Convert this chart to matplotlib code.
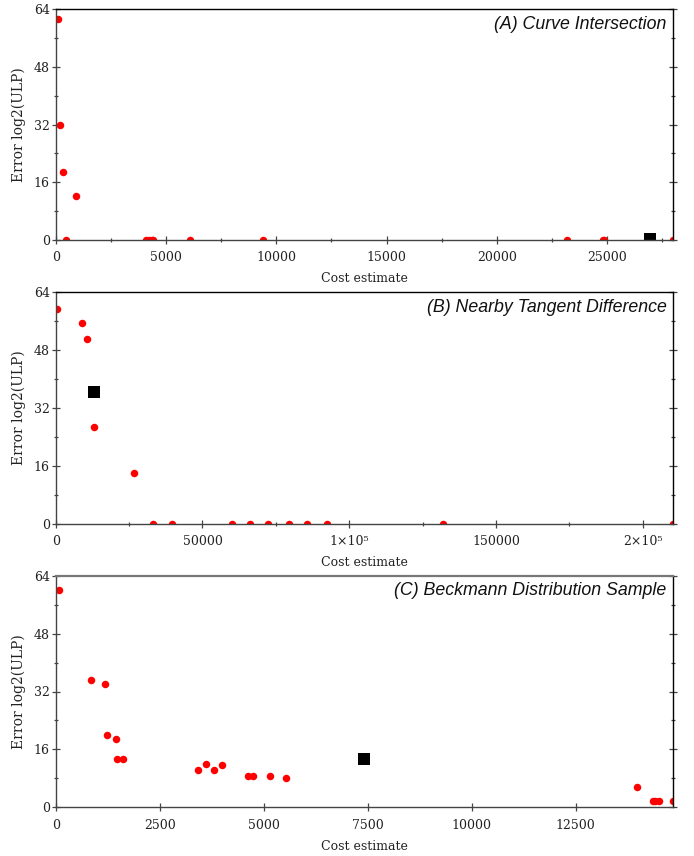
import matplotlib
matplotlib.use("Agg")
import matplotlib.pyplot as plt
from matplotlib.ticker import MultipleLocator, FixedLocator, FixedFormatter

# Panel A: Curve Intersection
a_x = [100, 210, 345, 935, 480, 4100, 4240, 4360, 4430, 6075, 9383, 23180, 24800, 24850, 28000]
a_y = [61.2, 31.8, 19.0, 12.3, 0, 0, 0, 0, 0, 0, 0, 0, 0, 0, 0]
a_sq = (26955, 0.3)

# Panel B: Nearby Tangent Difference
b_x = [443, 8964, 10670, 13160, 26690, 33270, 39740, 60200, 66120, 72460, 79510, 85650, 92360, 131900, 210400]
b_y = [59.5, 55.6, 51.1, 26.7, 14.1, 0, 0, 0, 0, 0, 0, 0, 0, 0, 0]
b_sq = (13160, 36.5)

# Panel C: Beckmann Distribution Sample
c_x = [79, 840, 1191, 1224, 1448, 1472, 1608, 3417, 3609, 3801, 3993, 4635, 4746, 5153, 5538,
       13969, 14361, 14409, 14513, 14850]
c_y = [60.0, 35.1, 34.0, 20.1, 19.0, 13.3, 13.3, 10.4, 11.9, 10.3, 11.7, 8.65, 8.65, 8.65, 8.2,
       5.5, 1.66, 1.66, 1.66, 1.66]
c_sq = (7411, 13.3)

titles = ["(A) Curve Intersection", "(B) Nearby Tangent Difference", "(C) Beckmann Distribution Sample"]

SERIF = "DejaVu Serif"
SPINE = "#444444"

fig = plt.figure(figsize=(6.94, 8.56), dpi=100)
W = 694.0
H = 856.0
left = 55.7 / W
width = (673.3 - 55.7) / W
boxes = [(9.3, 240.0), (292.3, 523.7), (575.7, 807.3)]

panels = [
    (a_x, a_y, a_sq, 28000, 5000, 2500, None),
    (b_x, b_y, b_sq, 210400, 50000, 25000, ["0", "50000", "1\u00d710\u2075", "150000", "2\u00d710\u2075"]),
    (c_x, c_y, c_sq, 14850, 2500, None, None),
]

for i, (xs, ys, sq, xmax, major, minor, labels) in enumerate(panels):
    top, bot = boxes[i]
    ax = fig.add_axes([left, 1 - bot / H, width, (bot - top) / H])
    ax.plot(xs, ys, "o", color="#ff0000", markersize=5.4, markeredgewidth=0)
    ax.plot([sq[0]], [sq[1]], "s", color="black", markersize=8.2, markeredgewidth=0)
    ax.set_xlim(0, xmax)
    ax.set_ylim(0, 64)

    ax.yaxis.set_major_locator(MultipleLocator(16))
    ax.yaxis.set_minor_locator(MultipleLocator(8))
    if labels is not None:
        ticks = [0, 50000, 100000, 150000, 200000]
        ax.xaxis.set_major_locator(FixedLocator(ticks))
        ax.xaxis.set_major_formatter(FixedFormatter(labels))
    else:
        ax.xaxis.set_major_locator(MultipleLocator(major))
    if minor is not None:
        ax.xaxis.set_minor_locator(MultipleLocator(minor))

    ax.tick_params(axis="both", which="both", direction="inout", color=SPINE, width=0.9,
                   labelsize=9, labelcolor="#222222")
    ax.tick_params(axis="both", which="major", length=6.3)
    ax.tick_params(axis="both", which="minor", length=3.1)
    ax.tick_params(axis="y", which="both", right=True, left=True, pad=1)
    ax.tick_params(axis="x", which="both", top=False, pad=5)
    for lab in ax.get_xticklabels() + ax.get_yticklabels():
        lab.set_family(SERIF)

    for side in ["left", "bottom"]:
        ax.spines[side].set_color(SPINE)
        ax.spines[side].set_linewidth(1.0)
    ax.spines["right"].set_color("black")
    ax.spines["right"].set_linewidth(1.0)
    ax.spines["top"].set_color("#777777" if i == 2 else "black")
    ax.spines["top"].set_linewidth(1.6 if i == 2 else 1.0)

    ax.set_xlabel("Cost estimate", family=SERIF, fontsize=9, color="#222222")
    ax.set_ylabel("Error log2(ULP)", family=SERIF, fontsize=10, color="#222222")
    ax.xaxis.set_label_coords(0.5, -0.14)
    ax.yaxis.set_label_coords(-0.048, 0.5)

    ax.annotate(titles[i], xy=(1, 1), xycoords="axes fraction", xytext=(-4.8, -4.5),
                textcoords="offset points", ha="right", va="top",
                family="Liberation Sans", style="italic", fontsize=12.8, color="#111111")

fig.savefig("out.png", dpi=100)
